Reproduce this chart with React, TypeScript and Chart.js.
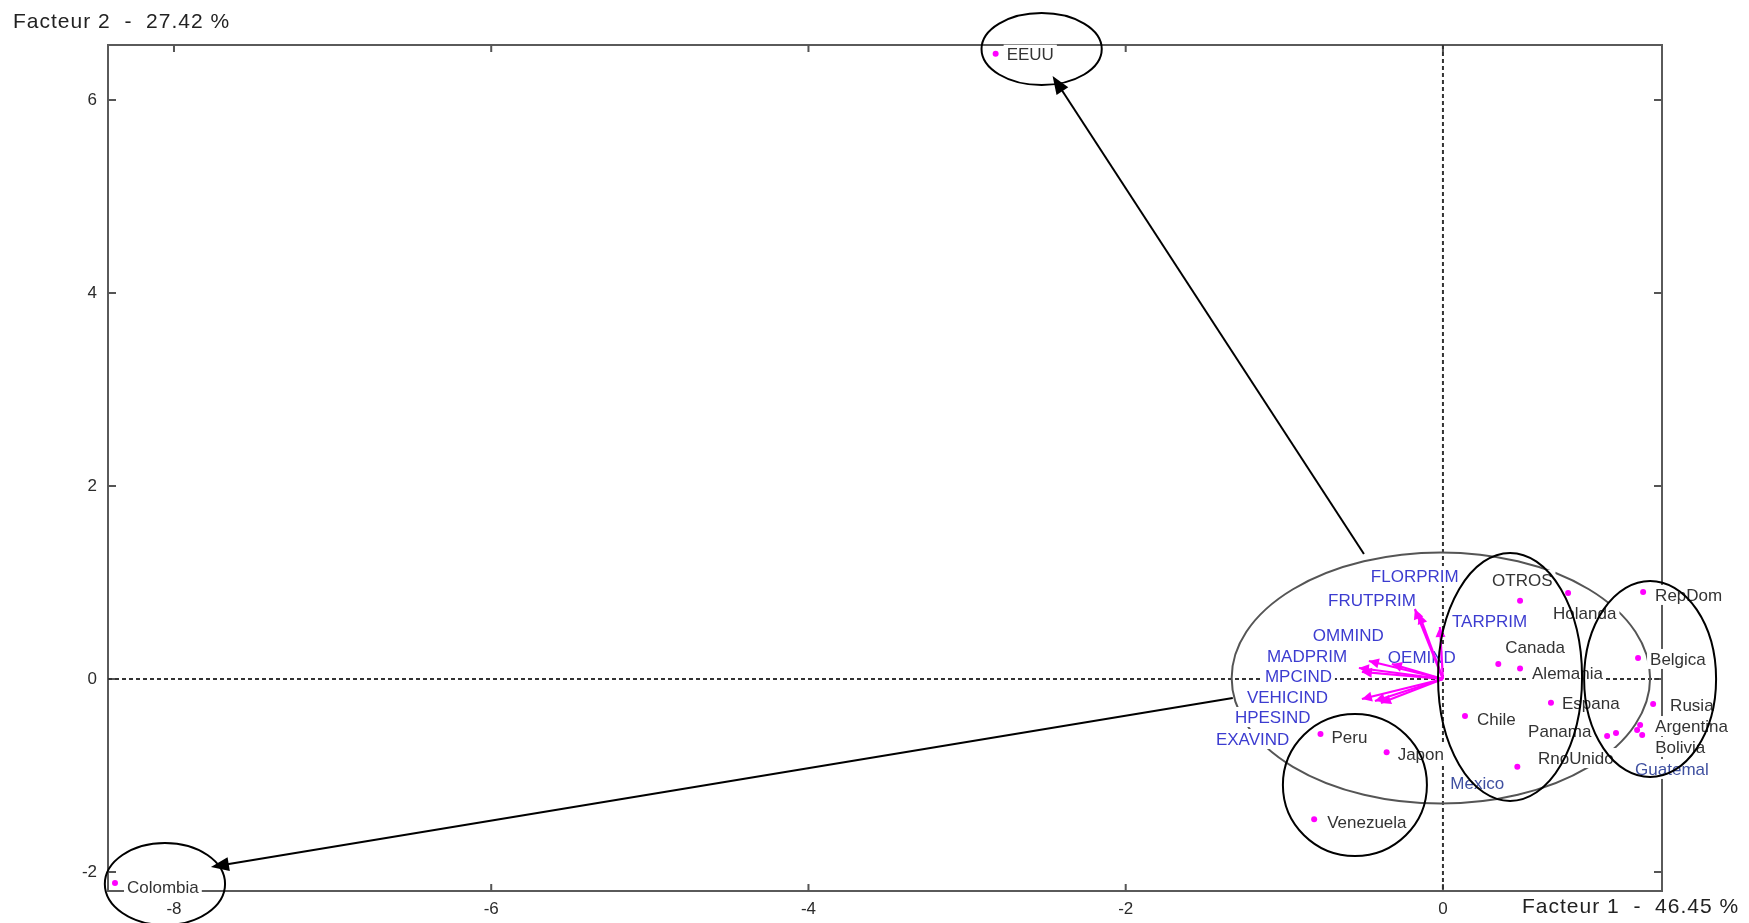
import React, { useEffect, useRef } from 'react';
import { Chart, registerables } from 'chart.js';

Chart.register(...registerables);

// ---------------- data ----------------
const countryNames = ['EEUU', 'Colombia', 'Peru', 'Japon', 'Venezuela', 'Chile', 'Mexico', 'Espana', 'Alemania', 'Canada', 'OTROS', 'Holanda', 'Panama', 'RnoUnido', 'RepDom', 'Belgica', 'Rusia', 'Argentina', 'Bolivia', 'Guatemal'];
const countryF1 = [-2.82, -8.372, -0.772, -0.355, -0.812, 0.139, 0.469, 0.681, 0.486, 0.349, 0.486, 0.789, 1.035, 1.091, 1.262, 1.23, 1.325, 1.243, 1.256, 1.224];
const countryF2 = [6.48, -2.114, -0.57, -0.76, -1.454, -0.383, -0.909, -0.245, 0.11, 0.155, 0.81, 0.891, -0.591, -0.56, 0.902, 0.218, -0.259, -0.477, -0.58, -0.528];

const variableNames = ['FLORPRIM', 'FRUTPRIM', 'TARPRIM', 'OMMIND', 'OEMIND', 'MADPRIM', 'MPCIND', 'VEHICIND', 'HPESIND', 'EXAVIND'];
const variableF1 = [-0.177, -0.151, -0.019, -0.467, -0.322, -0.53, -0.511, -0.511, -0.429, -0.391];
const variableF2 = [0.725, 0.674, 0.539, 0.187, 0.155, 0.114, 0.073, -0.207, -0.228, -0.249];

const xTickValues = [-8, -6, -4, -2, 0];
const yTickValues = [-2, 0, 2, 4, 6];
const xRange = [-8.416, 1.381];
const yRange = [-2.197, 6.57];
const xAxisTitle = 'Facteur 1  -  46.45 %';
const yAxisTitle = 'Facteur 2  -  27.42 %';

// ---------------- layout (label placement, px offsets from the mark) ----------------
const countryLabelOffsets = [
  [11, 1], [12, 4], [11, 3], [11, 2], [13, 3], [12, 3], [-67, 17], [11, 1], [12, 5], [7, -17],
  [-28, -21], [-15, 20], [-79, -5], [-78, 25], [12, 3], [12, 1], [17, 1], [15, 1], [13, 12], [-2, 39],
];
const variableLabelOffsets = [
  [-44, -33], [-91, -14], [12, -6], [-56, -26], [-4, -7], [-92, -12], [-97, 4], [-115, -2], [-140, 16], [-165, 36],
];
const blueCountryLabels = ['Mexico', 'Guatemal'];

// hand-drawn annotations, in data units
const grayEllipse = { cx: -0.013, cy: 0.01, rx: 1.319, ry: 1.301 };
const blackEllipses = [
  { cx: -2.53, cy: 6.528, rx: 0.379, ry: 0.373 },
  { cx: -8.057, cy: -2.124, rx: 0.379, ry: 0.425 },
  { cx: -0.555, cy: -1.098, rx: 0.454, ry: 0.736 },
  { cx: 0.423, cy: 0.021, rx: 0.454, ry: 1.285 },
  { cx: 1.306, cy: 0.0, rx: 0.416, ry: 1.016 },
];
const blackArrows = [
  { x1: -0.498, y1: 1.295, x2: -2.461, y2: 6.249 },
  { x1: -1.325, y1: -0.197, x2: -7.767, y2: -1.948 },
];

const FONT = '"Liberation Sans", Arial, sans-serif';
const LABEL_FONT = `17px ${FONT}`;

function arrowHead(ctx: CanvasRenderingContext2D, x1: number, y1: number, x2: number, y2: number, len: number, half: number) {
  const ang = Math.atan2(y2 - y1, x2 - x1);
  const bx = x2 - len * Math.cos(ang);
  const by = y2 - len * Math.sin(ang);
  ctx.beginPath();
  ctx.moveTo(x2, y2);
  ctx.lineTo(bx + half * Math.sin(ang), by - half * Math.cos(ang));
  ctx.lineTo(bx - half * Math.sin(ang), by + half * Math.cos(ang));
  ctx.closePath();
  ctx.fill();
}

function drawEllipse(chart: any, e: { cx: number; cy: number; rx: number; ry: number }) {
  const xs = chart.scales.x, ys = chart.scales.y;
  const cx = xs.getPixelForValue(e.cx), cy = ys.getPixelForValue(e.cy);
  const rx = Math.abs(xs.getPixelForValue(e.cx + e.rx) - cx);
  const ry = Math.abs(ys.getPixelForValue(e.cy + e.ry) - cy);
  const ctx = chart.ctx;
  ctx.beginPath();
  ctx.ellipse(cx, cy, rx, ry, 0, 0, Math.PI * 2);
  ctx.stroke();
}

function drawLabel(ctx: CanvasRenderingContext2D, text: string, x: number, y: number, color: string) {
  ctx.font = LABEL_FONT;
  const w = ctx.measureText(text).width;
  ctx.fillStyle = '#ffffff';
  ctx.fillRect(x - 3, y - 10, w + 6, 20);
  ctx.fillStyle = color;
  ctx.textAlign = 'left';
  ctx.textBaseline = 'middle';
  ctx.fillText(text, x, y + 1);
}

const overlayPlugin = {
  id: 'overlay',
  beforeDatasetsDraw(chart: any) {
    const { ctx, chartArea: a, scales } = chart;
    const xs = scales.x, ys = scales.y;
    ctx.save();
    // inward tick marks on all four sides
    ctx.strokeStyle = '#555';
    ctx.lineWidth = 2;
    ctx.beginPath();
    xTickValues.forEach((v) => {
      const p = xs.getPixelForValue(v);
      ctx.moveTo(p, a.bottom); ctx.lineTo(p, a.bottom - 7);
      ctx.moveTo(p, a.top); ctx.lineTo(p, a.top + 7);
    });
    yTickValues.forEach((v) => {
      const p = ys.getPixelForValue(v);
      ctx.moveTo(a.left, p); ctx.lineTo(a.left + 8, p);
      ctx.moveTo(a.right, p); ctx.lineTo(a.right - 8, p);
    });
    ctx.stroke();
    // dashed zero lines
    const x0 = xs.getPixelForValue(0), y0 = ys.getPixelForValue(0);
    ctx.setLineDash([4, 3]);
    ctx.strokeStyle = '#333';
    ctx.lineWidth = 2;
    ctx.beginPath();
    ctx.moveTo(a.left, y0); ctx.lineTo(a.right, y0);
    ctx.moveTo(x0, a.top); ctx.lineTo(x0, a.bottom);
    ctx.stroke();
    ctx.setLineDash([]);
    // gray group ellipse
    ctx.strokeStyle = '#555';
    ctx.lineWidth = 2;
    drawEllipse(chart, grayEllipse);
    ctx.restore();
  },
  afterDatasetsDraw(chart: any) {
    const { ctx, scales } = chart;
    const xs = scales.x, ys = scales.y;
    ctx.save();
    // country labels
    countryNames.forEach((name, i) => {
      const px = xs.getPixelForValue(countryF1[i]);
      const py = ys.getPixelForValue(countryF2[i]);
      const [dx, dy] = countryLabelOffsets[i];
      const color = blueCountryLabels.includes(name) ? '#3f50a0' : '#333333';
      drawLabel(ctx, name, px + dx, py + dy, color);
    });
    // variable labels
    variableNames.forEach((name, i) => {
      const px = xs.getPixelForValue(variableF1[i]);
      const py = ys.getPixelForValue(variableF2[i]);
      const [dx, dy] = variableLabelOffsets[i];
      drawLabel(ctx, name, px + dx, py + dy, '#3c3cd0');
    });
    // variable arrows from origin
    const ox = xs.getPixelForValue(0), oy = ys.getPixelForValue(0);
    ctx.strokeStyle = '#ff00ff';
    ctx.fillStyle = '#ff00ff';
    ctx.lineWidth = 2.2;
    variableNames.forEach((_, i) => {
      const tx = xs.getPixelForValue(variableF1[i]);
      const ty = ys.getPixelForValue(variableF2[i]);
      ctx.beginPath();
      ctx.moveTo(ox, oy);
      ctx.lineTo(tx, ty);
      ctx.stroke();
      arrowHead(ctx, ox, oy, tx, ty, 10, 5);
    });
    ctx.restore();
  },
  afterDraw(chart: any) {
    const { ctx, chartArea: a, scales } = chart;
    const xs = scales.x, ys = scales.y;
    ctx.save();
    // black hand-drawn annotations
    ctx.strokeStyle = '#000';
    ctx.fillStyle = '#000';
    ctx.lineWidth = 2;
    blackEllipses.forEach((e) => drawEllipse(chart, e));
    blackArrows.forEach((ar) => {
      const x1 = xs.getPixelForValue(ar.x1), y1 = ys.getPixelForValue(ar.y1);
      const x2 = xs.getPixelForValue(ar.x2), y2 = ys.getPixelForValue(ar.y2);
      const ang = Math.atan2(y2 - y1, x2 - x1);
      ctx.beginPath();
      ctx.moveTo(x1, y1);
      ctx.lineTo(x2 - 12 * Math.cos(ang), y2 - 12 * Math.sin(ang));
      ctx.stroke();
      arrowHead(ctx, x1, y1, x2, y2, 18, 7);
    });
    // axis titles
    ctx.font = `21px ${FONT}`;
    (ctx as any).letterSpacing = '1px';
    ctx.fillStyle = '#222';
    ctx.textBaseline = 'middle';
    ctx.textAlign = 'left';
    ctx.fillText(yAxisTitle, 13, a.top - 23);
    ctx.fillText(xAxisTitle, a.right - 140, a.bottom + 16);
    ctx.restore();
  },
};

export default function App() {
  const canvasRef = useRef<HTMLCanvasElement | null>(null);

  useEffect(() => {
    const canvas = canvasRef.current;
    if (!canvas) return;
    const tickFont = { family: FONT, size: 17 };
    const chart = new Chart(canvas, {
      type: 'scatter',
      data: {
        datasets: [
          {
            label: 'Pays',
            data: countryNames.map((_, i) => ({ x: countryF1[i], y: countryF2[i] })),
            pointRadius: 3,
            pointBackgroundColor: '#ff00ff',
            pointBorderWidth: 0,
            pointHoverRadius: 3,
          },
        ],
      },
      options: {
        responsive: false,
        devicePixelRatio: 1,
        animation: false,
        layout: { padding: { left: 0, top: 45, right: 87, bottom: 0 } },
        plugins: { legend: { display: false }, tooltip: { enabled: false }, title: { display: false } },
        scales: {
          x: {
            type: 'linear',
            position: 'bottom',
            min: xRange[0],
            max: xRange[1],
            grid: { display: false, drawTicks: false },
            border: { display: true, color: '#5a5a5a', width: 2 },
            ticks: { font: tickFont, color: '#2b2b2b', padding: 8 },
            afterBuildTicks: (s: any) => { s.ticks = xTickValues.map((v) => ({ value: v })); },
            afterFit: (s: any) => { s.height = 32; },
          },
          y: {
            type: 'linear',
            position: 'left',
            min: yRange[0],
            max: yRange[1],
            grid: { display: false, drawTicks: false },
            border: { display: true, color: '#5a5a5a', width: 2 },
            ticks: { font: tickFont, color: '#2b2b2b', padding: 11 },
            afterBuildTicks: (s: any) => { s.ticks = yTickValues.map((v) => ({ value: v })); },
            afterFit: (s: any) => { s.width = 108; },
          },
          x2: {
            type: 'linear',
            position: 'top',
            min: xRange[0],
            max: xRange[1],
            grid: { display: false, drawTicks: false },
            border: { display: true, color: '#5a5a5a', width: 2 },
            ticks: { display: false },
            afterFit: (s: any) => { s.height = 0; },
          },
          y2: {
            type: 'linear',
            position: 'right',
            min: yRange[0],
            max: yRange[1],
            grid: { display: false, drawTicks: false },
            border: { display: true, color: '#5a5a5a', width: 2 },
            ticks: { display: false },
            afterFit: (s: any) => { s.width = 0; },
          },
        },
      } as any,
      plugins: [overlayPlugin],
    });
    return () => chart.destroy();
  }, []);

  return (
    <div style={{ position: 'absolute', left: 0, top: 0, width: 1749, height: 923, background: '#fff' }}>
      <canvas ref={canvasRef} width={1749} height={923} style={{ width: 1749, height: 923, display: 'block' }} />
    </div>
  );
}
